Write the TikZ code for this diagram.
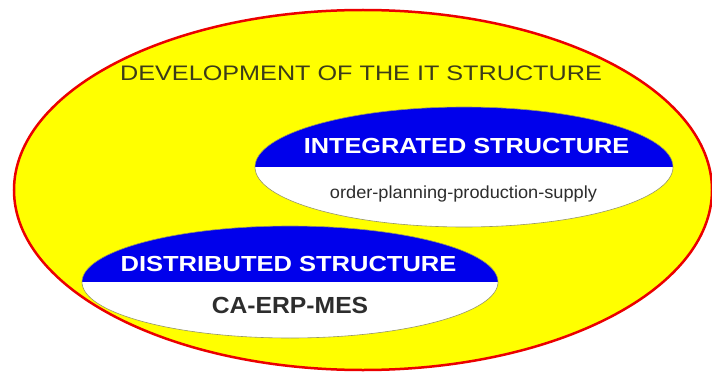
\documentclass[tikz,border=0pt]{standalone}
\usepackage{fontspec}
\setmainfont{Liberation Sans}
\definecolor{bigyellow}{RGB}{255,255,0}
\definecolor{bigred}{RGB}{235,0,0}
\definecolor{hdrblue}{RGB}{0,0,235}
\definecolor{rimgray}{RGB}{150,150,100}
\definecolor{titletext}{RGB}{60,60,25}
\definecolor{bodytext}{RGB}{45,45,45}
\tikzset{
  outer/.style={fill=bigyellow, draw=bigred, line width=2.5pt},
  hdrhalf/.style={fill=hdrblue},
  bodyhalf/.style={fill=white},
  rim/.style={draw=rimgray, line width=0.6pt},
  hdrtext/.style={anchor=base, text=white, inner sep=0pt, font=\fontsize{21.8}{24}\selectfont\bfseries},
  lbl/.style={anchor=base, inner sep=0pt}
}
\begin{document}
\begin{tikzpicture}[x=1pt,y=1pt]
\useasboundingbox (0,0) rectangle (712,373);
\fill[white] (0,0) rectangle (712,373);
% big ellipse
\path[outer] (363,183) ellipse [x radius=349, y radius=180];
\node[lbl, text=titletext, font=\fontsize{21}{24}\selectfont] (title) at (361,292) {\scalebox{1.2}[1]{DEVELOPMENT OF THE IT STRUCTURE}};
% integrated ellipse
\fill[hdrhalf] (255,206) arc [start angle=180, end angle=0, x radius=209, y radius=60] -- cycle;
\fill[bodyhalf] (255,206) arc [start angle=180, end angle=360, x radius=209, y radius=60] -- cycle;
\draw[rim] (464,206) ellipse [x radius=209, y radius=60];
\node[hdrtext] (integ) at (466.5,220) {\scalebox{1.16}[1]{INTEGRATED STRUCTURE}};
\node[lbl, text=bodytext, font=\fontsize{17.5}{20}\selectfont] (integsub) at (463.5,175) {\scalebox{1.04}[1]{order-planning-production-supply}};
% distributed ellipse
\fill[hdrhalf] (82,91) arc [start angle=180, end angle=0, x radius=208, y radius=56] -- cycle;
\fill[bodyhalf] (82,91) arc [start angle=180, end angle=360, x radius=208, y radius=56] -- cycle;
\draw[rim] (290,91) ellipse [x radius=208, y radius=56];
\node[hdrtext] (distr) at (288.5,102) {\scalebox{1.17}[1]{DISTRIBUTED STRUCTURE}};
\node[lbl, text=bodytext, font=\fontsize{23.3}{26}\selectfont\bfseries] (distrsub) at (290,60) {\scalebox{1.06}[1]{CA-ERP-MES}};
\end{tikzpicture}
\end{document}
